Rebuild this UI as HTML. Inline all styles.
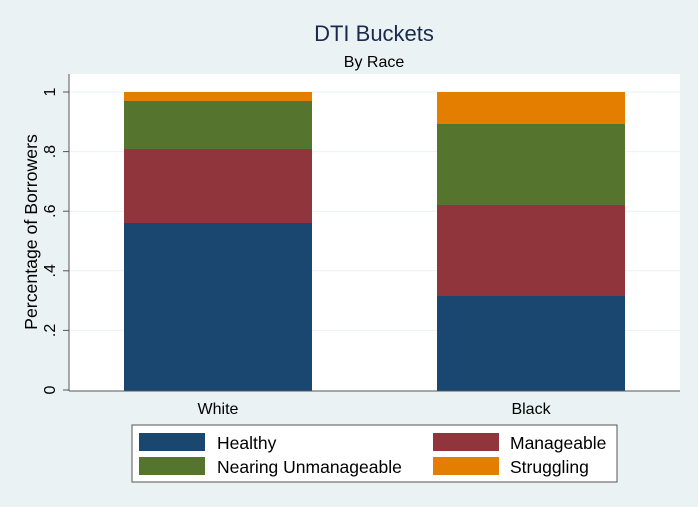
<!DOCTYPE html>
<html><head><style>html,body{margin:0;padding:0;width:698px;height:507px;overflow:hidden;background:#eaf2f3}svg{display:block}</style></head><body>
<svg width="698" height="507" xmlns="http://www.w3.org/2000/svg" font-family="Liberation Sans, Arial, sans-serif">
<rect width="698" height="507" fill="#eaf2f3"/>
<rect x="69" y="74" width="611" height="317" fill="#fff"/>
<g stroke="#eaf2f3" stroke-width="1">
<line x1="69" x2="680" y1="92" y2="92"/><line x1="69" x2="680" y1="151.6" y2="151.6"/>
<line x1="69" x2="680" y1="211.2" y2="211.2"/><line x1="69" x2="680" y1="270.8" y2="270.8"/>
<line x1="69" x2="680" y1="330.4" y2="330.4"/></g>
<rect x="124" y="223" width="188" height="168" fill="#1a476f"/>
<rect x="124" y="149" width="188" height="74" fill="#90353b"/>
<rect x="124" y="101" width="188" height="48" fill="#55752f"/>
<rect x="124" y="92" width="188" height="9" fill="#e37e00"/>
<rect x="437" y="296" width="188" height="95" fill="#1a476f"/>
<rect x="437" y="205" width="188" height="91" fill="#90353b"/>
<rect x="437" y="124" width="188" height="81" fill="#55752f"/>
<rect x="437" y="92" width="188" height="32" fill="#e37e00"/>
<g stroke="#555" stroke-width="1">
<line x1="69" y1="74" x2="69" y2="391"/><line x1="69" y1="391" x2="680" y2="391"/>
<line x1="63" x2="69" y1="92" y2="92"/><line x1="63" x2="69" y1="151.6" y2="151.6"/>
<line x1="63" x2="69" y1="211.2" y2="211.2"/><line x1="63" x2="69" y1="270.8" y2="270.8"/>
<line x1="63" x2="69" y1="330.4" y2="330.4"/><line x1="63" x2="69" y1="390" y2="390"/></g>
<g font-size="16" fill="#000" text-anchor="middle">
<text transform="translate(55,92) rotate(-90)">1</text>
<text transform="translate(55,151.6) rotate(-90)">.8</text>
<text transform="translate(55,211.2) rotate(-90)">.6</text>
<text transform="translate(55,270.8) rotate(-90)">.4</text>
<text transform="translate(55,330.4) rotate(-90)">.2</text>
<text transform="translate(55,390) rotate(-90)">0</text>
<text transform="translate(37,232) rotate(-90)" font-size="17.7">Percentage of Borrowers</text>
<text x="218" y="414">White</text><text x="531" y="414">Black</text>
<text x="374" y="41" font-size="22" fill="#1a2a4f">DTI Buckets</text>
<text x="374" y="67" font-size="16">By Race</text>
</g>
<rect x="132" y="425" width="485" height="57" fill="#fff" stroke="#555"/>
<rect x="139" y="433" width="66" height="18" fill="#1a476f"/>
<rect x="433" y="433" width="66" height="18" fill="#90353b"/>
<rect x="139" y="457" width="66" height="18" fill="#55752f"/>
<rect x="433" y="457" width="66" height="18" fill="#e37e00"/>
<g font-size="17.5" fill="#000">
<text x="217" y="449">Healthy</text><text x="510" y="449">Manageable</text>
<text x="217" y="473">Nearing Unmanageable</text><text x="510" y="473">Struggling</text>
</g>
</svg>
</body></html>
